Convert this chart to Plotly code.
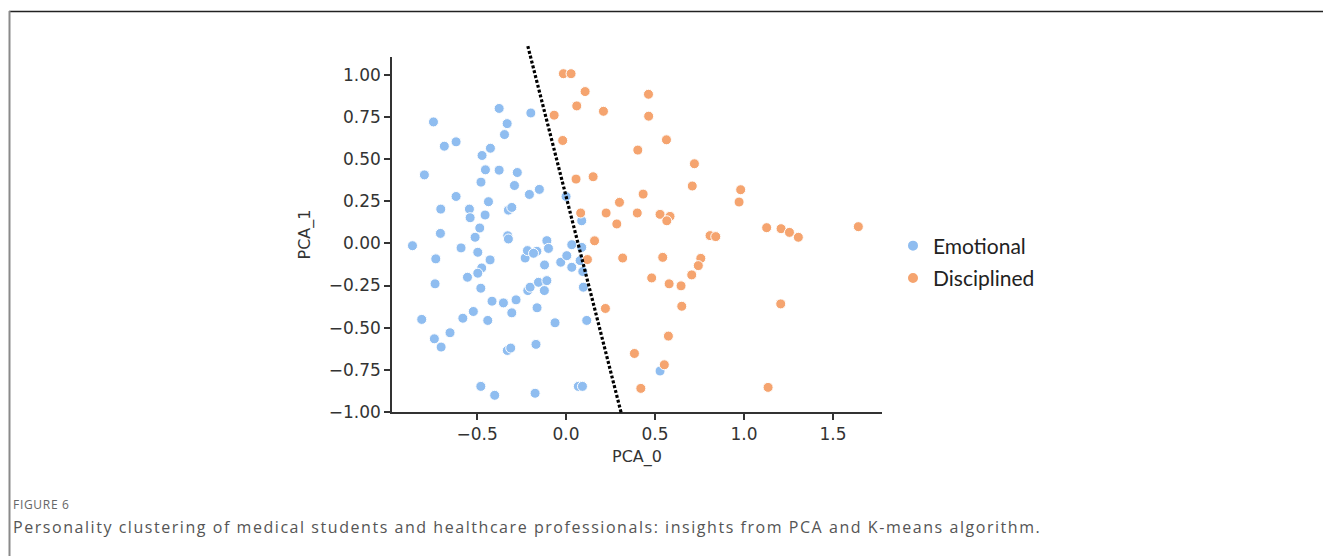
import plotly.graph_objects as go

# ---- data ----
emotional_x = [-0.745, -0.376, -0.198, -0.331, -0.346, -0.684, -0.618, -0.425, -0.472, -0.796,
               -0.453, -0.376, -0.274, -0.478, -0.290, -0.150, -0.206, -0.618, 0.000, -0.704,
               -0.543, -0.436, -0.324, -0.305, -0.539, -0.455, 0.088, -0.485, -0.706, -0.863,
               -0.590, -0.511, -0.496, -0.732, -0.427, -0.474, -0.496, -0.554, -0.736, -0.479,
               -0.328, -0.324, -0.230, -0.217, -0.164, -0.183, -0.108, -0.099, -0.121, -0.030,
               0.032, 0.088, 0.004, 0.032, 0.079, 0.094, 0.097, 0.116, -0.062, -0.416,
               -0.352, -0.281, -0.305, -0.521, -0.580, -0.811, -0.440, -0.215, -0.202, -0.155,
               -0.108, -0.122, -0.163, -0.652, -0.740, -0.702, -0.330, -0.311, -0.169, -0.479,
               -0.401, -0.174, 0.069, 0.092, 0.528]
emotional_y = [0.720, 0.800, 0.773, 0.710, 0.645, 0.576, 0.602, 0.564, 0.521, 0.406,
               0.436, 0.434, 0.420, 0.363, 0.343, 0.320, 0.290, 0.278, 0.278, 0.203,
               0.203, 0.247, 0.197, 0.213, 0.152, 0.168, 0.134, 0.091, 0.059, -0.014,
               -0.027, 0.036, -0.053, -0.092, -0.098, -0.146, -0.177, -0.201, -0.240, -0.266,
               0.045, 0.026, -0.087, -0.043, -0.047, -0.059, 0.016, -0.030, -0.128, -0.112,
               -0.008, -0.024, -0.073, -0.142, -0.102, -0.167, -0.260, -0.457, -0.471, -0.343,
               -0.353, -0.335, -0.412, -0.404, -0.444, -0.451, -0.457, -0.280, -0.260, -0.231,
               -0.221, -0.280, -0.382, -0.530, -0.566, -0.615, -0.635, -0.621, -0.599, -0.848,
               -0.901, -0.889, -0.848, -0.848, -0.757]

disciplined_x = [-0.015, 0.028, 0.107, 0.060, 0.210, -0.067, -0.019, 0.056, 0.152, 0.082,
                 0.225, 0.463, 0.464, 0.564, 0.403, 0.721, 0.709, 0.981, 0.972, 0.433,
                 0.300, 0.400, 0.528, 0.584, 0.566, 0.285, 1.127, 1.208, 1.255, 1.305,
                 1.642, 0.809, 0.841, 0.160, 0.120, 0.318, 0.543, 0.757, 0.743, 0.706,
                 0.481, 0.579, 0.646, 0.221, 0.650, 1.206, 0.575, 0.384, 0.552, 0.420,
                 1.135]
disciplined_y = [1.006, 1.006, 0.900, 0.815, 0.783, 0.760, 0.610, 0.381, 0.395, 0.180,
                 0.180, 0.884, 0.754, 0.614, 0.553, 0.472, 0.340, 0.318, 0.245, 0.292,
                 0.243, 0.180, 0.172, 0.160, 0.134, 0.115, 0.093, 0.087, 0.065, 0.036,
                 0.099, 0.046, 0.040, 0.015, -0.096, -0.087, -0.083, -0.089, -0.132, -0.187,
                 -0.205, -0.240, -0.252, -0.386, -0.373, -0.359, -0.550, -0.653, -0.720, -0.860,
                 -0.854]

# decision boundary (dotted line) end points in data units
boundary_x = [-0.215, 0.309]
boundary_y = [1.17, -1.003]

x_ticks = [-0.5, 0.0, 0.5, 1.0, 1.5]
x_tick_labels = ["\u22120.5", "0.0", "0.5", "1.0", "1.5"]
y_ticks = [-1.0, -0.75, -0.5, -0.25, 0.0, 0.25, 0.5, 0.75, 1.0]
y_tick_labels = ["\u22121.00", "\u22120.75", "\u22120.50", "\u22120.25", "0.00",
                 "0.25", "0.50", "0.75", "1.00"]
x_range = [-0.978, 1.775]
y_range = [-1.0, 1.105]

# ---- layout geometry ----
W, H = 1323, 556
L, R, T, B = 392, 441, 57, 144
PW, PH = W - L - R, H - T - B


def px_to_paper_x(px):
    return (px - L) / PW


def px_to_paper_y(py):
    return (H - B - py) / PH


def dom(v, rng):
    return (v - rng[0]) / (rng[1] - rng[0])


BLUE = "#8fbdf0"
ORANGE = "#f5a46f"

fig = go.Figure()
fig.add_trace(go.Scatter(
    x=emotional_x, y=emotional_y, mode="markers", name="Emotional",
    legendgroup="a",
    marker=dict(color=BLUE, size=10, line=dict(color="white", width=1)),
))
fig.add_trace(go.Scatter(
    x=disciplined_x, y=disciplined_y, mode="markers", name="Disciplined",
    legendgroup="b",
    marker=dict(color=ORANGE, size=10, line=dict(color="white", width=1)),
))

# dotted boundary line (not clipped to the plot area)
fig.add_shape(type="line", xref="x domain", yref="y domain",
              x0=dom(boundary_x[0], x_range), y0=dom(boundary_y[0], y_range),
              x1=dom(boundary_x[1], x_range), y1=dom(boundary_y[1], y_range),
              line=dict(color="black", width=3.2, dash="3px,2px"))

# figure frame lines
fig.add_shape(type="line", xref="paper", yref="paper",
              x0=px_to_paper_x(9), x1=px_to_paper_x(W + 5),
              y0=px_to_paper_y(11.5), y1=px_to_paper_y(11.5),
              line=dict(color="#222222", width=1.5))
fig.add_shape(type="line", xref="paper", yref="paper",
              x0=px_to_paper_x(9.5), x1=px_to_paper_x(9.5),
              y0=px_to_paper_y(11), y1=px_to_paper_y(H + 5),
              line=dict(color="#8a8a8a", width=2))

tick_font = dict(family="DejaVu Sans", size=17, color="#333333")

fig.update_xaxes(
    range=x_range, tickvals=x_ticks, ticktext=x_tick_labels,
    showgrid=False, zeroline=False, showline=True, linecolor="#333333", linewidth=1.5,
    ticks="outside", ticklen=6, tickwidth=1.5, tickcolor="#333333", tickfont=tick_font,
    title=dict(text="PCA_0", font=dict(family="DejaVu Sans", size=16, color="#333333"), standoff=8),
)
fig.update_yaxes(
    range=y_range, tickvals=y_ticks, ticktext=y_tick_labels,
    showgrid=False, zeroline=False, showline=True, linecolor="#333333", linewidth=1.5,
    ticks="outside", ticklen=6, tickwidth=1.5, tickcolor="#333333", tickfont=tick_font,
    title=dict(text="PCA_1", font=dict(family="DejaVu Sans", size=16, color="#333333"), standoff=14),
)

fig.add_annotation(text="<span style='letter-spacing:0.7px'>FIGURE 6</span>", xref="paper", yref="paper",
                   x=px_to_paper_x(11), y=px_to_paper_y(504), xanchor="left", yanchor="middle",
                   showarrow=False, font=dict(family="Open Sans", size=12, color="#666666"))
fig.add_annotation(text="<span style='letter-spacing:1.55px'>Personality clustering of medical students "
                        "and healthcare professionals: insights from PCA and K-means algorithm.</span>",
                   xref="paper", yref="paper",
                   x=px_to_paper_x(11), y=px_to_paper_y(527), xanchor="left", yanchor="middle",
                   showarrow=False, font=dict(family="Open Sans", size=16, color="#555555"))

fig.update_layout(
    width=W, height=H,
    margin=dict(l=L, r=R, t=T, b=B, autoexpand=False),
    paper_bgcolor="white", plot_bgcolor="white",
    showlegend=True,
    legend=dict(x=px_to_paper_x(893), y=px_to_paper_y(262), xanchor="left", yanchor="middle",
                font=dict(family="Lato", size=21, color="#222222"),
                tracegroupgap=2, itemsizing="constant", bgcolor="rgba(0,0,0,0)"),
)

fig.write_html("out.html", config={"displayModeBar": False},
               post_script="document.body.style.margin='0';document.body.style.padding='0';")
